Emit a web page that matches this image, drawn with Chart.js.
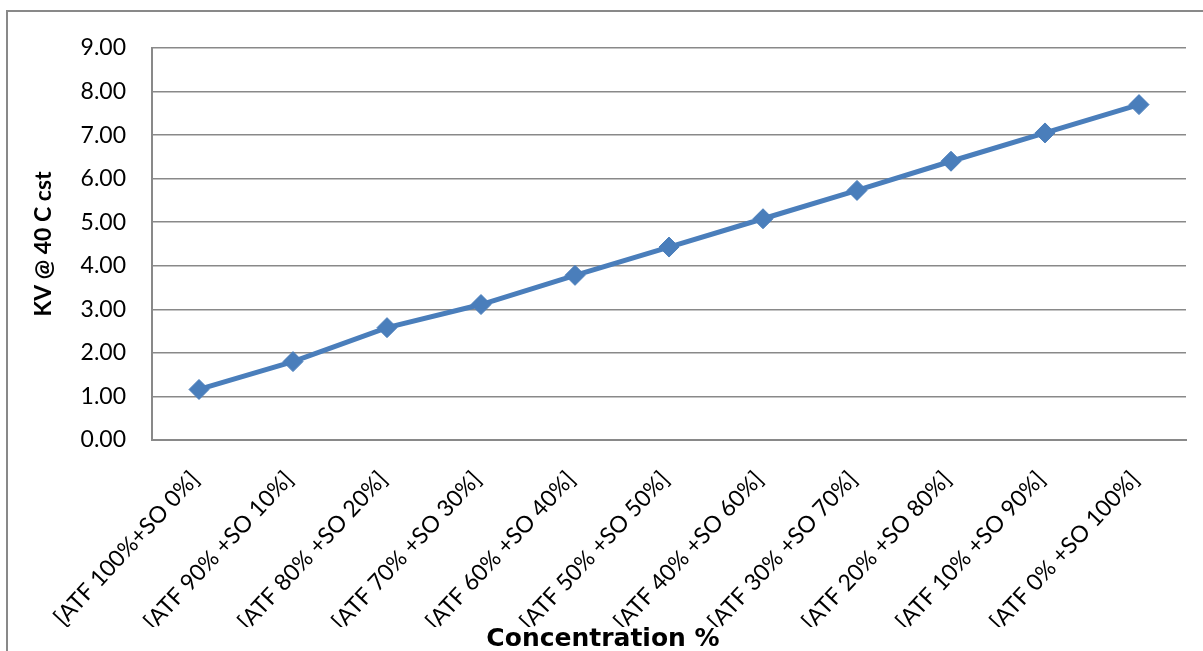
<!DOCTYPE html>
<html>
<head>
<meta charset="utf-8">
<title>KV @ 40 C cst</title>
<script src="https://cdn.jsdelivr.net/npm/chart.js@4.4.1/dist/chart.umd.min.js"></script>
<style>
  html, body { margin: 0; padding: 0; background: #ffffff; overflow: hidden; }
  #wrap { position: relative; width: 1203px; height: 651px; }
  #frame {
    position: absolute; left: 6px; top: 10px; width: 1400px; height: 900px;
    border: 2px solid #898989; box-sizing: border-box; pointer-events: none;
  }
  canvas { position: absolute; left: 0; top: 0; }
</style>
</head>
<body>
<div id="wrap">
  <div id="frame"></div>
  <canvas id="chart" width="1203" height="651"></canvas>
</div>
<script>
// Blend ratios of ATF and SO
const categories = [
  "[ATF 100%+SO 0%]",
  "[ATF 90% +SO 10%]",
  "[ATF 80% +SO 20%]",
  "[ATF 70% +SO 30%]",
  "[ATF 60% +SO 40%]",
  "[ATF 50% +SO 50%]",
  "[ATF 40% +SO 60%]",
  "[ATF 30% +SO 70%]",
  "[ATF 20% +SO 80%]",
  "[ATF 10% +SO 90%]",
  "[ATF 0% +SO 100%]"
];

// Kinematic viscosity at 40 C, cSt
const kvValues = [1.16, 1.80, 2.58, 3.11, 3.78, 4.43, 5.08, 5.73, 6.40, 7.05, 7.70];

// Value axis range
const yMin = 0;
const yMax = 9;
const yStep = 1;

const yTitle = "KV @ 40 C cst";
const xTitle = "Concentration %";

const axisGrey = "#898989";
const lineBlue = "#4a7ebb";

new Chart(document.getElementById("chart"), {
  type: "line",
  data: {
    labels: categories,
    datasets: [{
      data: kvValues,
      borderColor: lineBlue,
      backgroundColor: lineBlue,
      borderWidth: 5,
      tension: 0,
      pointStyle: "rectRot",
      pointRadius: 10,
      pointBorderWidth: 1,
      pointBackgroundColor: lineBlue,
      pointBorderColor: lineBlue
    }]
  },
  options: {
    responsive: false,
    animation: false,
    layout: { padding: { top: 48, right: 17, left: 20, bottom: 0 } },
    plugins: {
      legend: { display: false },
      tooltip: { enabled: false },
      title: {
        display: true,
        position: "bottom",
        text: xTitle,
        color: "#000000",
        font: { family: "'DejaVu Sans'", size: 25, weight: "bold", lineHeight: 1 },
        padding: { top: 0, bottom: -1 }
      }
    },
    scales: {
      x: {
        type: "category",
        offset: true,
        grid: { display: false, drawTicks: false },
        border: { display: true, color: axisGrey, width: 2 },
        ticks: {
          autoSkip: false,
          minRotation: 47,
          maxRotation: 47,
          padding: 26,
          labelOffset: -4,
          color: "#000000",
          font: { family: "Lato", size: 23 }
        },
        afterFit: (scale) => { scale.height = 187; }
      },
      y: {
        min: yMin,
        max: yMax,
        grid: { color: axisGrey, lineWidth: 1.5, drawTicks: false },
        border: { display: true, color: axisGrey, width: 2 },
        ticks: {
          stepSize: yStep,
          padding: 26,
          color: "#000000",
          font: { family: "Lato", size: 23 },
          callback: (v) => Number(v).toFixed(2)
        },
        title: {
          display: true,
          text: yTitle,
          color: "#000000",
          font: { family: "Lato", size: 23, weight: "bold", lineHeight: 1.2 },
          padding: { top: 10, bottom: 0 }
        },
        afterFit: (scale) => { scale.width = 132; }
      }
    }
  }
});
</script>
</body>
</html>
